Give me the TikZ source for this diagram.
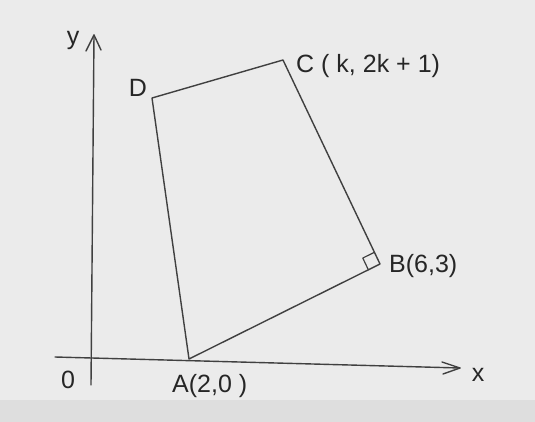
\documentclass[tikz,border=0pt]{standalone}
\usepackage{fontspec}
\setmainfont{Liberation Sans}
\usetikzlibrary{calc}
\begin{document}
\begin{tikzpicture}[x=1pt,y=-1pt,
  pen/.style={draw=black!75,line width=1.4pt,line cap=round,line join=round},
  lbl/.style={font=\fontsize{25}{27}\selectfont,text=black!85,inner sep=0pt}]
\useasboundingbox (0,0) rectangle (535,422);
\fill[black!8] (0,0) rectangle (535,422);
\fill[black!13] (0,400) rectangle (535,422);
% axes
\coordinate (xl) at (55,357);
\coordinate (xr) at (460,368);
\coordinate (yb) at (91,385);
\coordinate (yt) at (94,35);
\coordinate (xa1) at ($(xr)+(-18,-6)$);
\coordinate (xa2) at ($(xr)+(-17,6)$);
\coordinate (ya1) at ($(yt)+(-8,16)$);
\coordinate (ya2) at ($(yt)+(7,15)$);
\draw[pen] (xl) -- (xr);
\draw[pen] (xa1) -- (xr) -- (xa2);
\draw[pen] (yb) -- (yt);
\draw[pen] (ya1) -- (yt) -- (ya2);
% quadrilateral
\coordinate (A) at (189,359);
\coordinate (B) at (380,264);
\coordinate (C) at (283,60);
\coordinate (D) at (152,98);
\draw[pen] (A) -- (B) -- (C) -- (D) -- cycle;
% right angle mark
\coordinate (r1) at ($(B)!13pt!(C)$);
\coordinate (r2) at ($(B)!13pt!(A)$);
\coordinate (r3) at ($(r1)+(r2)-(B)$);
\draw[pen,line width=1.2pt] (r1) -- (r3) -- (r2);
% labels
\node[lbl] (ly) at (73,40) {y};
\node[lbl] (lx) at (478,375) {x};
\node[lbl] (lO) at (68,380) {0};
\node[lbl] (lD) at (138,88) {D};
\node[lbl,anchor=west] (lC) at (296,66) {C ( k, 2k + 1)};
\node[lbl,anchor=west] (lB) at (389,266) {B(6,3)};
\node[lbl,anchor=west] (lA) at (172,386) {A(2,0 )};
\end{tikzpicture}
\end{document}
